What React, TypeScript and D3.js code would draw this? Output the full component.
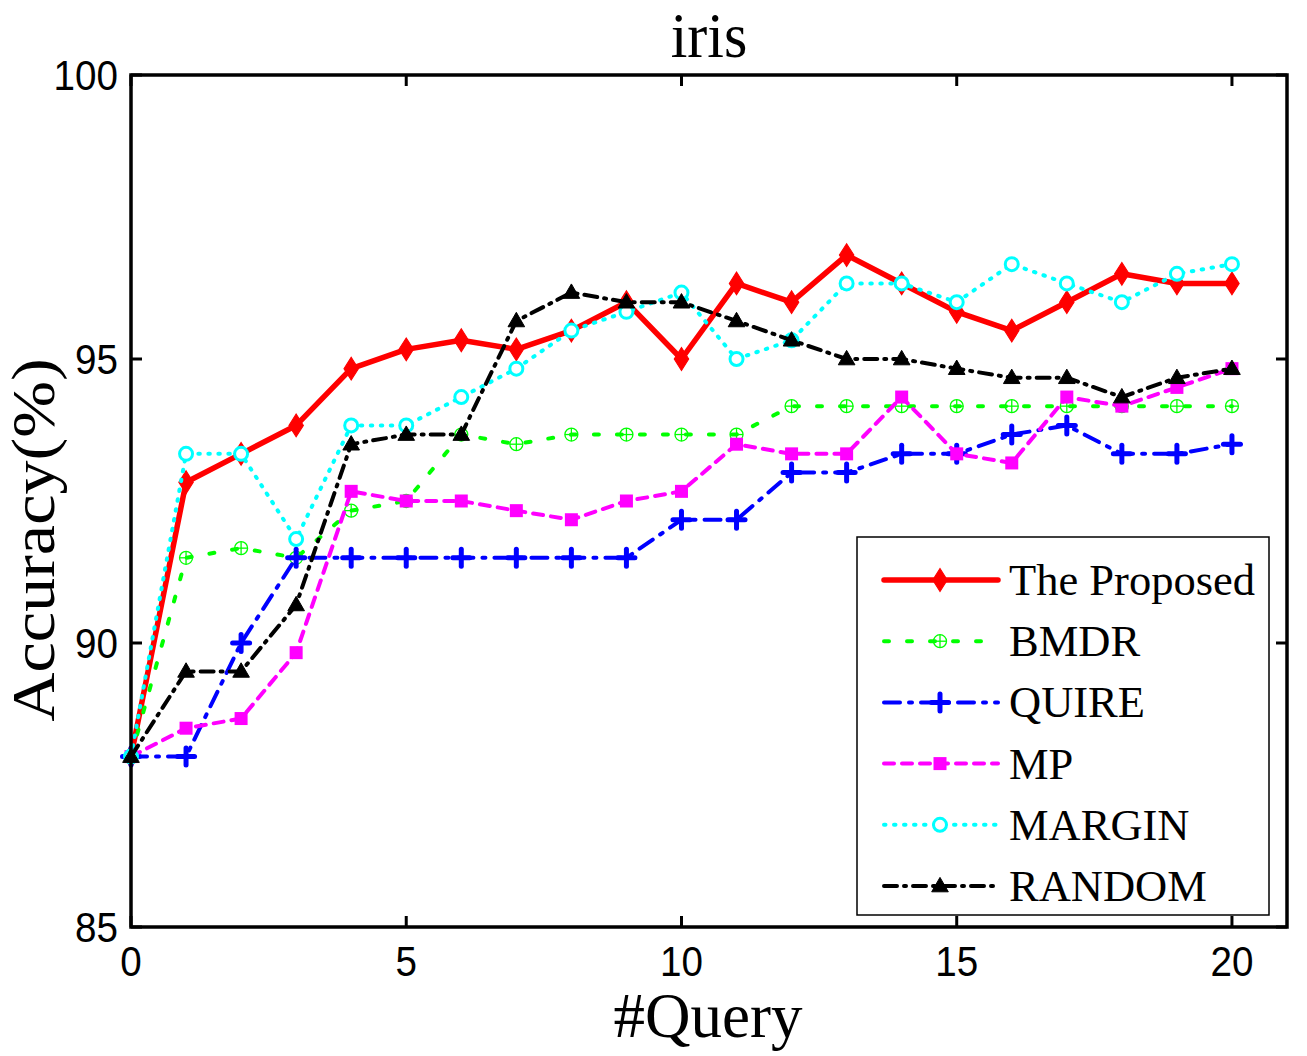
import { scaleLinear, line as d3_line, symbol, symbolDiamond, symbolTriangle } from "d3"

// accuracy (%) per number of queries, 0..20
const queries = [0, 1, 2, 3, 4, 5, 6, 7, 8, 9, 10, 11, 12, 13, 14, 15, 16, 17, 18, 19, 20]

const proposed = [88, 92.83, 93.33, 93.83, 94.83, 95.17, 95.33, 95.17, 95.5, 96, 95, 96.33, 96, 96.83, 96.33, 95.83, 95.5, 96, 96.5, 96.33, 96.33]
const bmdr = [88, 91.5, 91.67, 91.5, 92.33, 92.5, 93.67, 93.5, 93.67, 93.67, 93.67, 93.67, 94.17, 94.17, 94.17, 94.17, 94.17, 94.17, 94.17, 94.17, 94.17]
const quire = [88, 88, 90, 91.5, 91.5, 91.5, 91.5, 91.5, 91.5, 91.5, 92.17, 92.17, 93, 93, 93.33, 93.33, 93.67, 93.83, 93.33, 93.33, 93.5]
const mp = [88, 88.5, 88.67, 89.83, 92.67, 92.5, 92.5, 92.33, 92.17, 92.5, 92.67, 93.5, 93.33, 93.33, 94.33, 93.33, 93.17, 94.33, 94.17, 94.5, 94.83]
const margin = [88, 93.33, 93.33, 91.83, 93.83, 93.83, 94.33, 94.83, 95.5, 95.83, 96.17, 95, 95.33, 96.33, 96.33, 96, 96.67, 96.33, 96, 96.5, 96.67]
const random = [88, 89.5, 89.5, 90.67, 93.5, 93.67, 93.67, 95.67, 96.17, 96, 96, 95.67, 95.33, 95, 95, 94.83, 94.67, 94.67, 94.33, 94.67, 94.83]

const xTicks = [0, 5, 10, 15, 20]
const yTicks = [85, 90, 95, 100]

type Marker = "diamond" | "circlePlus" | "plus" | "square" | "circle" | "triangle"

interface Series {
  name: string
  values: number[]
  color: string
  width: number
  dash: string
  marker: Marker
}

const series: Series[] = [
  { name: "The Proposed", values: proposed, color: "#ff0000", width: 5.5, dash: "none", marker: "diamond" },
  { name: "BMDR", values: bmdr, color: "#00ff00", width: 4, dash: "5,18", marker: "circlePlus" },
  { name: "QUIRE", values: quire, color: "#0000ff", width: 4, dash: "16,9,3,9", marker: "plus" },
  { name: "MP", values: mp, color: "#ff00ff", width: 4, dash: "10,8", marker: "square" },
  { name: "MARGIN", values: margin, color: "#00ffff", width: 4, dash: "1.5,8.5", marker: "circle" },
  { name: "RANDOM", values: random, color: "#000000", width: 4, dash: "13,7,2,7", marker: "triangle" },
]

const left = 131
const right = 1287
const top = 75
const bottom = 927

const x = scaleLinear().domain([0, 21]).range([left, right])
const y = scaleLinear().domain([85, 100]).range([bottom, top])

function MarkerShape({ kind, color, cx, cy }: { kind: Marker; color: string; cx: number; cy: number }) {
  switch (kind) {
    case "diamond":
      return <path d={symbol(symbolDiamond, 150)() ?? ""} transform={`translate(${cx},${cy}) scale(1.1,1)`} fill={color} stroke={color} strokeWidth={1} />
    case "circlePlus":
      return (
        <g transform={`translate(${cx},${cy})`} stroke={color} strokeWidth={1.3} fill="none">
          <circle r={6.5} />
          <line x1={-6.5} x2={6.5} />
          <line y1={-6.5} y2={6.5} />
        </g>
      )
    case "plus":
      return (
        <g transform={`translate(${cx},${cy})`} stroke={color} strokeWidth={5} strokeLinecap="round">
          <line x1={-8.5} x2={8.5} />
          <line y1={-8.5} y2={8.5} />
        </g>
      )
    case "square":
      return <rect x={cx - 6.5} y={cy - 6.5} width={13} height={13} fill={color} />
    case "circle":
      return <circle cx={cx} cy={cy} r={6.5} fill="white" stroke={color} strokeWidth={3} />
    case "triangle":
      return <path d={symbol(symbolTriangle, 120)() ?? ""} transform={`translate(${cx},${cy + 1})`} fill={color} stroke={color} strokeWidth={1} />
  }
}

export default function App() {
  const line = d3_line<number>()
    .x((_, i) => x(queries[i]))
    .y((d) => y(d))

  const legendX = 857
  const legendY = 537
  const legendW = 412
  const legendH = 378
  const rowY = (i: number) => 580 + i * 61.2

  return (
    <svg
      width={1307}
      height={1056}
      style={{ position: "absolute", left: 0, top: 0, background: "white" }}
    >
      {/* title */}
      <text transform="translate(709,57) scale(1,1.05)" textAnchor="middle" fontFamily="Liberation Serif" fontSize={60}>
        iris
      </text>

      {/* series */}
      {series.map((s) => (
        <g key={s.name}>
          <path
            d={line(s.values) ?? ""}
            fill="none"
            stroke={s.color}
            strokeWidth={s.width}
            strokeDasharray={s.dash}
            strokeLinecap="round"
            strokeLinejoin="round"
          />
          {s.values.map((v, i) => (
            <MarkerShape key={i} kind={s.marker} color={s.color} cx={x(queries[i])} cy={y(v)} />
          ))}
        </g>
      ))}

      {/* axes box and ticks */}
      <rect x={left} y={top} width={right - left} height={bottom - top} fill="none" stroke="black" strokeWidth={3.5} />
      {xTicks.map((t) => (
        <g key={t}>
          <line x1={x(t)} x2={x(t)} y1={bottom} y2={bottom - 11} stroke="black" strokeWidth={3} />
          <line x1={x(t)} x2={x(t)} y1={top} y2={top + 11} stroke="black" strokeWidth={3} />
          <text transform={`translate(${x(t)},976) scale(0.92,1)`} textAnchor="middle" fontFamily="Liberation Sans" fontSize={42}>
            {t}
          </text>
        </g>
      ))}
      {yTicks.map((t) => (
        <g key={t}>
          <line x1={left} x2={left + 11} y1={y(t)} y2={y(t)} stroke="black" strokeWidth={3} />
          <line x1={right} x2={right - 11} y1={y(t)} y2={y(t)} stroke="black" strokeWidth={3} />
          <text transform={`translate(118,${y(t) + 15}) scale(0.92,1)`} textAnchor="end" fontFamily="Liberation Sans" fontSize={42}>
            {t}
          </text>
        </g>
      ))}

      {/* axis labels */}
      <text x={708} y={1037} textAnchor="middle" fontFamily="Liberation Serif" fontSize={63}>
        #Query
      </text>
      <text
        transform="translate(54,540) rotate(-90) scale(1.1,1)"
        textAnchor="middle"
        fontFamily="Liberation Serif"
        fontSize={62}
      >
        Accuracy(%)
      </text>

      {/* legend */}
      <rect x={legendX} y={legendY} width={legendW} height={legendH} fill="white" stroke="black" strokeWidth={1.5} />
      {series.map((s, i) => (
        <g key={s.name}>
          <line
            x1={884}
            x2={998}
            y1={rowY(i)}
            y2={rowY(i)}
            stroke={s.color}
            strokeWidth={s.width}
            strokeDasharray={s.dash}
            strokeLinecap="round"
          />
          <MarkerShape kind={s.marker} color={s.color} cx={940} cy={rowY(i)} />
          <text x={1009} y={rowY(i) + 15} fontFamily="Liberation Serif" fontSize={44.5}>
            {s.name}
          </text>
        </g>
      ))}
    </svg>
  )
}
